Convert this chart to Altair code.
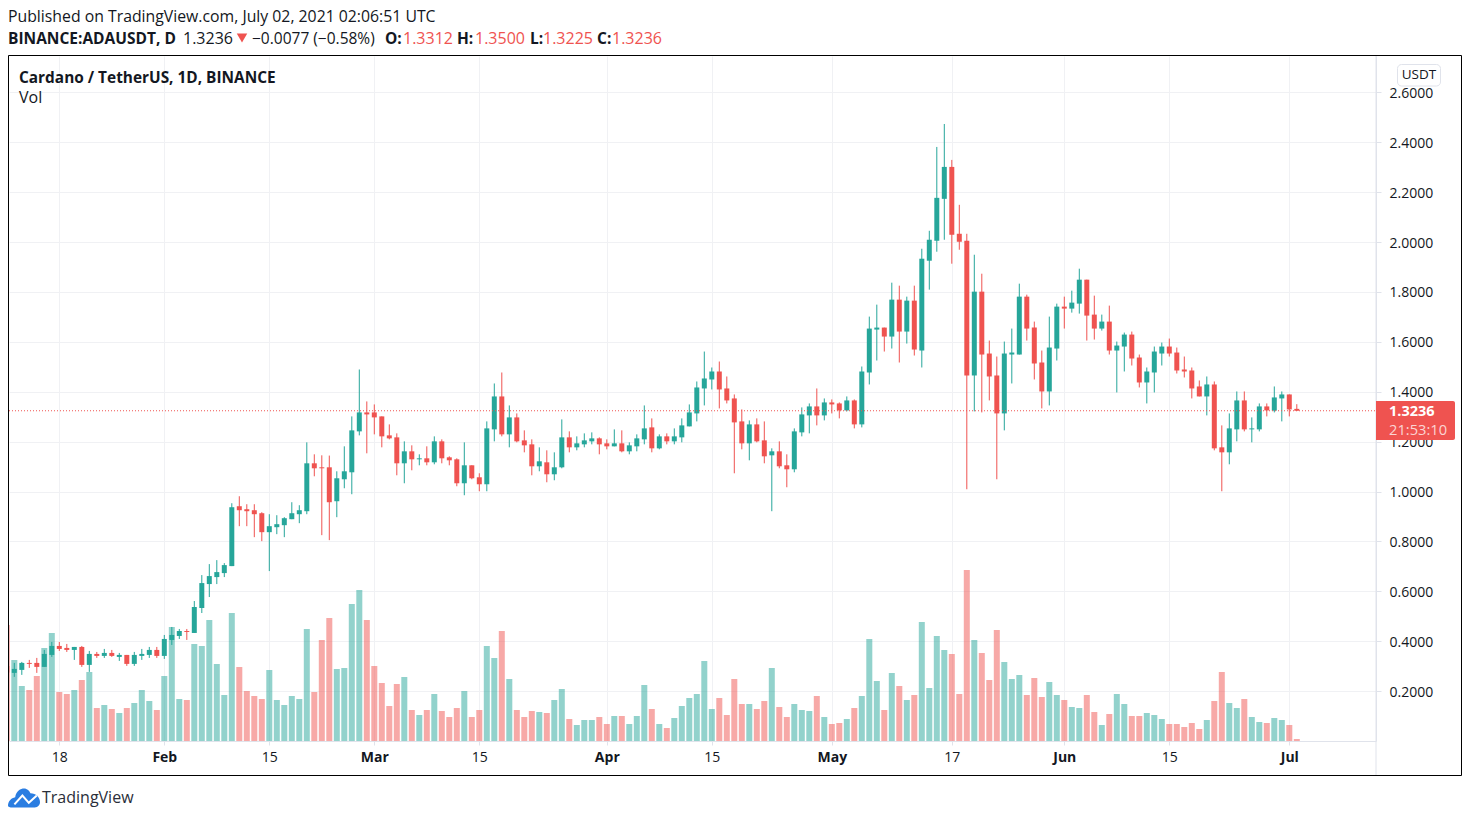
import altair as alt
import pandas as pd

# (open, high, low, close) per day, ADA/USDT, first candle 2021-01-11
jan = [(.301,.305,.270,.275),(.273,.313,.257,.289),(.285,.317,.265,.313),(.313,.325,.293,.309),(.313,.333,.273,.297),
       (.297,.365,.297,.349),(.345,.397,.337,.381),(.381,.397,.361,.369),(.373,.389,.357,.365),(.365,.377,.325,.377),
       (.377,.381,.297,.305),(.305,.361,.277,.349),(.349,.357,.333,.341),(.341,.369,.333,.353),(.353,.365,.337,.341),
       (.337,.353,.321,.345),(.345,.345,.301,.309),(.309,.357,.301,.345),(.341,.369,.325,.349),(.345,.377,.333,.365),
       (.365,.377,.333,.341)]
feb = [(.341,.425,.329,.409),(.405,.457,.385,.425),(.421,.449,.409,.441),(.441,.449,.405,.437),(.433,.561,.433,.537),
       (.533,.665,.513,.633),(.629,.709,.577,.661),(.657,.725,.629,.677),(.673,.713,.657,.705),(.701,.953,.701,.937),
       (.941,.981,.861,.925),(.929,.949,.861,.921),(.925,.949,.817,.909),(.913,.917,.801,.837),(.837,.909,.681,.861),
       (.857,.905,.829,.869),(.865,.897,.817,.893),(.889,.957,.889,.913),(.909,.945,.873,.925),(.921,1.197,.909,1.113),
       (1.113,1.149,1.061,1.093),(1.097,1.145,.825,1.093),(1.097,1.144,.805,.957),(.961,1.081,.897,1.053),
       (1.049,1.181,1.013,1.081),(1.077,1.301,.989,1.245),(1.241,1.489,1.225,1.317),(1.317,1.361,1.153,1.309)]
mar = [(1.317,1.349,1.229,1.297),(1.301,1.301,1.177,1.221),(1.225,1.269,1.209,1.213),(1.217,1.233,1.065,1.113),
       (1.113,1.201,1.033,1.161),(1.161,1.185,1.085,1.129),(1.129,1.149,1.105,1.133),(1.133,1.181,1.105,1.117),
       (1.117,1.221,1.109,1.201),(1.201,1.209,1.113,1.133),(1.137,1.141,1.105,1.125),(1.129,1.133,1.021,1.033),
       (1.033,1.197,.985,1.105),(1.105,1.105,1.049,1.053),(1.057,1.073,1.001,1.029),(1.029,1.281,1.001,1.253),
       (1.249,1.433,1.201,1.381),(1.381,1.477,1.221,1.229),(1.229,1.345,1.177,1.297),(1.297,1.313,1.197,1.201),
       (1.205,1.245,1.157,1.185),(1.189,1.209,1.065,1.101),(1.101,1.177,1.081,1.121),(1.117,1.165,1.037,1.069),
       (1.069,1.157,1.045,1.097),(1.097,1.289,1.093,1.217),(1.217,1.241,1.157,1.177),(1.177,1.221,1.165,1.193),
       (1.189,1.233,1.177,1.205),(1.201,1.237,1.189,1.213),(1.213,1.217,1.149,1.189)]
apr = [(1.193,1.209,1.169,1.181),(1.181,1.249,1.181,1.193),(1.193,1.245,1.157,1.161),(1.161,1.197,1.149,1.185),
       (1.181,1.229,1.161,1.213),(1.209,1.345,1.189,1.253),(1.257,1.293,1.157,1.173),(1.173,1.229,1.169,1.221),
       (1.221,1.233,1.189,1.201),(1.201,1.253,1.189,1.221),(1.217,1.293,1.197,1.265),(1.261,1.349,1.261,1.317),
       (1.313,1.441,1.281,1.417),(1.413,1.561,1.345,1.453),(1.449,1.497,1.409,1.481),(1.481,1.521,1.333,1.409),
       (1.413,1.461,1.353,1.365),(1.373,1.389,1.073,1.277),(1.281,1.329,1.169,1.193),(1.193,1.285,1.125,1.269),
       (1.269,1.293,1.197,1.201),(1.205,1.281,1.113,1.141),(1.145,1.173,.921,1.161),(1.161,1.201,1.093,1.101),
       (1.105,1.149,1.017,1.089),(1.089,1.253,1.077,1.241),(1.237,1.337,1.221,1.309),(1.305,1.353,1.233,1.341),
       (1.341,1.413,1.265,1.305),(1.305,1.373,1.285,1.357)]
may = [(1.357,1.369,1.313,1.349),(1.353,1.357,1.293,1.325),(1.325,1.381,1.321,1.365),(1.365,1.369,1.253,1.269),
       (1.269,1.501,1.257,1.481),(1.477,1.701,1.429,1.653),(1.649,1.749,1.525,1.657),(1.657,1.657,1.561,1.621),
       (1.621,1.837,1.573,1.769),(1.769,1.825,1.517,1.641),(1.641,1.781,1.593,1.765),(1.765,1.825,1.545,1.569),
       (1.565,1.973,1.497,1.933),(1.925,2.045,1.809,2.009),(2.005,2.381,1.961,2.177),(2.173,2.473,2.009,2.301),
       (2.301,2.329,1.913,2.029),(2.033,2.149,1.969,2.001),(2.005,2.033,1.009,1.465),(1.465,1.949,1.321,1.801),
       (1.801,1.873,1.317,1.549),(1.553,1.605,1.365,1.461),(1.465,1.541,1.049,1.313),(1.313,1.601,1.245,1.553),
       (1.549,1.653,1.433,1.557),(1.549,1.833,1.549,1.781),(1.781,1.789,1.605,1.653),(1.657,1.681,1.449,1.513),
       (1.517,1.565,1.333,1.401),(1.401,1.701,1.345,1.577),(1.573,1.753,1.525,1.741)]
jun = [(1.741,1.781,1.653,1.733),(1.733,1.805,1.717,1.757),(1.753,1.893,1.713,1.849),(1.849,1.849,1.605,1.705),
       (1.709,1.785,1.609,1.653),(1.653,1.709,1.645,1.681),(1.681,1.745,1.549,1.565),(1.565,1.601,1.397,1.585),
       (1.581,1.637,1.481,1.629),(1.629,1.641,1.505,1.533),(1.537,1.549,1.417,1.437),(1.437,1.497,1.353,1.481),
       (1.477,1.581,1.397,1.561),(1.553,1.597,1.505,1.581),(1.581,1.613,1.541,1.553),(1.557,1.577,1.473,1.485),
       (1.489,1.541,1.457,1.481),(1.485,1.497,1.373,1.413),(1.421,1.445,1.381,1.381),(1.381,1.461,1.305,1.429),
       (1.429,1.441,1.165,1.173),(1.177,1.265,1.001,1.157),(1.157,1.313,1.109,1.253),(1.249,1.401,1.201,1.365),
       (1.365,1.401,1.241,1.249),(1.249,1.297,1.197,1.253),(1.249,1.353,1.241,1.341),(1.341,1.353,1.301,1.325),
       (1.324,1.421,1.317,1.377),(1.373,1.401,1.281,1.389)]
jul = [(1.389,1.389,1.301,1.329),(1.3312,1.3500,1.3225,1.3236)]

# daily volume, millions of ADA (estimated)
vol_jan = [1160,810,550,510,650,930,1080,490,470,510,610,690,330,360,320,280,330,380,510,400,310]
vol_feb = [650,1140,420,410,970,950,1210,770,460,1280,740,500,450,420,710,410,360,450,420,1120,490,1010,1230,720,730,1370,1510,1210]
vol_mar = [750,580,350,570,640,310,260,310,470,300,240,330,500,240,310,950,830,1100,620,310,240,300,290,280,410,520,220,160,210,210,240]
vol_apr = [170,250,250,170,250,560,320,170,130,230,350,430,470,800,320,430,260,620,370,370,320,400,730,340,240,370,310,300,450,240]
vol_may = [170,180,220,330,450,1020,600,310,680,550,410,460,1190,530,1050,910,870,470,1710,1010,880,610,1110,790,620,660,460,630,440,590,460]
vol_jun = [410,340,330,460,290,160,270,470,370,250,250,280,260,220,170,170,140,180,120,210,400,690,380,330,420,240,190,180,230,210]
vol_jul = [160,20]

tick_days = ["2021-01-18","2021-02-01","2021-02-15","2021-03-01","2021-03-15","2021-04-01",
             "2021-04-15","2021-05-01","2021-05-17","2021-06-01","2021-06-15","2021-07-01"]
price_ticks = [0.2,0.4,0.6,0.8,1.0,1.2,1.4,1.6,1.8,2.0,2.2,2.4,2.6]
last_price = 1.3236

GREEN, RED = "#26a69a", "#ef5350"
INK, LINE, GRID = "#131722", "#e0e3eb", "#f0f1f4"
FONT = "Open Sans"
PW, PH = 1367, 685


def ms(s):
    return int(pd.Timestamp(s, tz="UTC").value // 10**6)


ohlc = jan + feb + mar + apr + may + jun + jul
volume = vol_jan + vol_feb + vol_mar + vol_apr + vol_may + vol_jun + vol_jul
assert len(ohlc) == len(volume) == 173, (len(ohlc), len(volume))
days = pd.date_range("2021-01-11", periods=len(ohlc)).strftime("%Y-%m-%d")
df = pd.DataFrame(ohlc, columns=["open", "high", "low", "close"])
df["date"] = list(days)
df["volume"] = volume
df["dir"] = ["up" if c >= o else "down" for o, c in zip(df["open"], df["close"])]

xscale = alt.Scale(type="utc", nice=False, padding=0, domain=[ms("2021-01-11T07:02:00"), ms("2021-07-12T13:26:00")])
pscale = alt.Scale(domain=[0, 2.7455], nice=False, zero=False)
vscale = alt.Scale(domain=[0, 6850], nice=False)
cscale = alt.Color("dir:N", scale=alt.Scale(domain=["up", "down"], range=[GREEN, RED]), legend=None)

xaxis = alt.Axis(
    values=[ms(d) for d in tick_days], title=None, grid=True, gridColor=GRID, domainColor=LINE,
    tickColor=LINE, tickSize=4, labelColor=INK, labelFont=FONT, labelFontSize=14, labelPadding=5,
    labelExpr="utcdate(datum.value)==1 ? utcFormat(datum.value,'%b') : utcFormat(datum.value,'%-d')",
    labelFontWeight={"condition": {"test": "utcdate(datum.value)==1", "value": "bold"}, "value": "normal"},
    labelOverlap=False, labelFlush=False,
)
yaxis = alt.Axis(
    values=price_ticks, orient="right", format=".4f", title=None, grid=True, gridColor=GRID,
    domainColor=LINE, tickColor=LINE, tickSize=5, labelColor=INK, labelFont=FONT, labelFontSize=14,
    labelPadding=8, labelOffset=1, labelOverlap=False, labelFlush=False,
)
base = alt.Chart(df)
X = alt.X("date:T", scale=xscale, axis=xaxis)

vol = base.mark_bar(size=6, opacity=0.5, clip=True, orient="vertical").encode(
    x=X, y=alt.Y("volume:Q", scale=vscale, axis=None), color=cscale)
wick = base.mark_rule(strokeWidth=1, clip=True).encode(
    x=alt.X("date:T", scale=xscale, axis=None),
    y=alt.Y("low:Q", scale=pscale, axis=yaxis), y2="high:Q", color=cscale)
body = base.mark_bar(size=5, clip=True, orient="vertical").encode(
    x=alt.X("date:T", scale=xscale, axis=None),
    y=alt.Y("open:Q", scale=pscale, axis=None), y2="close:Q", color=cscale)

one = alt.Data(values=[{}])
price_line = alt.Chart(one).mark_rule(color=RED, strokeDash=[1, 2], strokeWidth=1).encode(
    x=alt.value(0), x2=alt.value(PW), y=alt.Y(datum=last_price, scale=pscale, axis=None))


def px(v):
    return alt.value(v - 9)


def py(v):
    return alt.value(v - 56)


def text(s, x, y, size=16, weight="normal", color=INK, align="left"):
    return alt.Chart(one).mark_text(
        text=s, font=FONT, fontSize=size, fontWeight=weight, color=color, align=align, baseline="middle"
    ).encode(x=px(x), y=py(y))


def box(x0, x1, y0, y1, **kw):
    return alt.Chart(one).mark_rect(**kw).encode(x=px(x0), x2=px(x1), y=py(y0), y2=py(y1))


frame = box(8.5, 1461.5, 55.5, 775.5, fill="transparent", stroke="#000000", strokeWidth=1)
axis_rule = alt.Chart(one).mark_rule(color=LINE, strokeWidth=1).encode(x=px(1376), y=py(56), y2=py(775))
price_box = box(1376, 1455, 401, 440, fill=RED, cornerRadiusTopRight=2, cornerRadiusBottomRight=2)
usdt_box = box(1397.5, 1440.5, 64.5, 86, fill="#ffffff", stroke=LINE, strokeWidth=1, cornerRadius=4)

cloud = ("M-1,.5 C-1,.2 -.8,0 -.55,-.05 C-.5,-.45 -.2,-.6 0,-.6 C.2,-.6 .35,-.45 .4,-.3 "
         "C.75,-.3 1,-.05 1,.25 C1,.5 .8,.6 .6,.6 L-.7,.6 C-.9,.6 -1,.55 -1,.5 Z")
logo = alt.Chart(one).mark_point(shape=cloud, filled=True, size=1024, color="#2a7de1", opacity=1).encode(
    x=px(24), y=py(798))
logo_line = alt.Chart(one).mark_point(
    shape="M-.6,.4 L-.1,-.15 L.3,.3 L.8,-.15", filled=False, size=1024, color="#ffffff", opacity=1, strokeWidth=2
).encode(x=px(24), y=py(798))

triangle = alt.Chart(one).mark_point(shape="triangle-down", filled=True, size=110, color=RED, opacity=1).encode(
    x=px(242), y=py(38))

texts = [
    text("Published on TradingView.com, July 02, 2021 02:06:51 UTC", 8, 17, size=15.8),
    text("BINANCE:ADAUSDT, D", 8, 39, size=15.5, weight="bold"),
    text("1.3236", 183, 39),
    text("\u22120.0077 (\u22120.58%)", 252, 39, size=15.5),
    text("O:", 385, 39, size=15.5, weight="bold"), text("1.3312", 403, 39, color=RED),
    text("H:", 457, 39, size=15.5, weight="bold"), text("1.3500", 475, 39, color=RED),
    text("L:", 530, 39, size=15.5, weight="bold"), text("1.3225", 543, 39, color=RED),
    text("C:", 597, 39, size=15.5, weight="bold"), text("1.3236", 612, 39, color=RED),
    text("Cardano / TetherUS, 1D, BINANCE", 19, 78, size=15.4, weight="bold"),
    text("Vol", 19, 98, size=16),
    text("USDT", 1419, 75, size=13.5, align="center"),
    text("1.3236", 1389, 412, size=14.5, weight="bold", color="#ffffff"),
    text("21:53:10", 1389, 431, size=14.7, color="#fbd5d4"),
    text("TradingView", 42, 798, size=16, color="#2a2e39"),
]

chart = alt.layer(
    vol, wick, body, price_line, axis_rule, frame, price_box, usdt_box, triangle, logo, logo_line, *texts
).resolve_scale(y="independent", color="shared").resolve_axis(x="independent", y="independent").properties(
    width=PW, height=PH, autosize="none",
    padding={"left": 1, "top": 48, "right": 86, "bottom": 70},
    background="#ffffff",
).configure_view(stroke=None)

chart.save("out.html", embed_options={"renderer": "svg", "actions": False})
